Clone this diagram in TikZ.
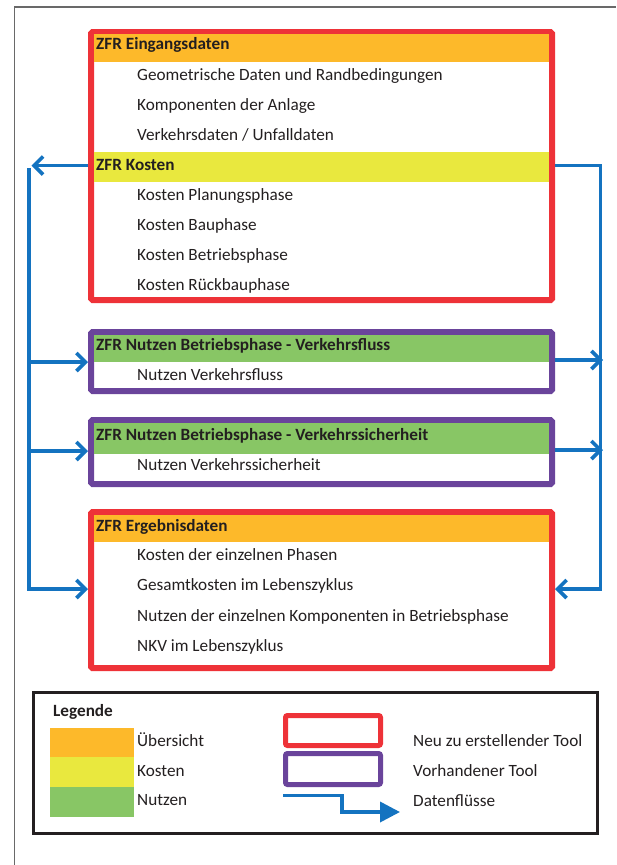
\documentclass[tikz,border=0pt]{standalone}
\usepackage{fontspec}
\setmainfont{Carlito}
\usetikzlibrary{arrows.meta}

\definecolor{toolred}{RGB}{238,50,56}
\definecolor{toolpurple}{RGB}{106,68,155}
\definecolor{bandorange}{RGB}{253,185,42}
\definecolor{bandyellow}{RGB}{233,232,62}
\definecolor{bandgreen}{RGB}{136,198,101}
\definecolor{flowblue}{RGB}{20,115,192}
\definecolor{framegray}{RGB}{105,105,105}
\definecolor{inkdark}{RGB}{35,31,32}

\begin{document}
\begin{tikzpicture}[x=1pt,y=-1pt,
  font=\fontsize{17.2}{20}\selectfont, text=inkdark,
  newtool/.style={draw=toolred, line width=6pt, outer sep=3pt, inner sep=0pt,
    rounded corners=1.5pt, minimum width=461pt},
  oldtool/.style={draw=toolpurple, line width=6pt, outer sep=3pt, inner sep=0pt,
    rounded corners=1.5pt, minimum width=461pt},
  band/.style={fill=#1, draw=none, inner sep=0pt, outer sep=0pt,
    minimum width=455pt, anchor=north west},
  head/.style={anchor=base west, inner sep=0pt, font=\fontsize{17.2}{20}\selectfont\bfseries},
  item/.style={anchor=base west, inner sep=0pt},
  flow/.style={draw=flowblue, line width=3.6pt,
    -{Straight Barb[length=9pt,width=18pt,line width=3.6pt]}},
  flowline/.style={draw=flowblue, line width=3.6pt},
  swatch/.style={fill=#1, draw=none, inner sep=0pt, outer sep=0pt,
    minimum width=84pt, anchor=north west},
  legtool/.style={draw=#1, line width=5pt, rounded corners=2pt, inner sep=0pt,
    minimum width=95pt},
]
\useasboundingbox (0,0) rectangle (616,865);

% page frame
\draw[framegray, line width=1.5pt] (14.5,865) -- (14.5,7) -- (616,7);

% ---------- input data and costs ----------
\node[newtool, minimum height=268pt] (ein) at (321.5,166) {};
\node[band=bandorange, minimum height=28pt] (bEin) at (94,34) {};
\node[head] (tEin) at (96,49.5) {ZFR Eingangsdaten};
\node[item] (i1) at (137,80) {Geometrische Daten und Randbedingungen};
\node[item] (i2) at (137,110) {Komponenten der Anlage};
\node[item] (i3) at (137,140) {Verkehrsdaten / Unfalldaten};
\node[band=bandyellow, minimum height=30pt] (bKost) at (94,152) {};
\node[head] (tKost) at (96,170) {ZFR Kosten};
\node[item] (k1) at (137,200) {Kosten Planungsphase};
\node[item] (k2) at (137,230) {Kosten Bauphase};
\node[item] (k3) at (137,260) {Kosten Betriebsphase};
\node[item] (k4) at (137,290) {Kosten Rückbauphase};

% ---------- traffic flow benefit ----------
\node[oldtool, minimum height=59pt] (nf) at (321.5,361.5) {};
\node[band=bandgreen, minimum height=27pt] (bNf) at (94,335) {};
\node[head] (tNf) at (96,350) {ZFR Nutzen Betriebsphase - Verkehrsfluss};
\node[item] (nf1) at (137,380) {Nutzen Verkehrsfluss};

% ---------- traffic safety benefit ----------
\node[oldtool, minimum height=64pt] (ns) at (321.5,452) {};
\node[band=bandgreen, minimum height=31pt] (bNs) at (94,423) {};
\node[head] (tNs) at (96,440) {ZFR Nutzen Betriebsphase - Verkehrssicherheit};
\node[item] (ns1) at (137,470) {Nutzen Verkehrssicherheit};

% ---------- results ----------
\node[newtool, minimum height=156pt] (erg) at (321.5,590) {};
\node[band=bandorange, minimum height=27pt] (bErg) at (94,515) {};
\node[head] (tErg) at (96,531) {ZFR Ergebnisdaten};
\node[item] (r1) at (137,560) {Kosten der einzelnen Phasen};
\node[item] (r2) at (137,590) {Gesamtkosten im Lebenszyklus};
\node[item] (r3) at (137,621) {Nutzen der einzelnen Komponenten in Betriebsphase};
\node[item] (r4) at (137,651) {NKV im Lebenszyklus};

% ---------- data flows ----------
\coordinate (lOut) at (31.5,165.5);
\coordinate (lTop) at (29,168);
\coordinate (lNf)  at (29,362);
\coordinate (lNs)  at (29,451);
\coordinate (lBot) at (29,589);
\coordinate (rTop) at (600.5,165.5);
\coordinate (rBot) at (600.5,589);
\coordinate (rNf)  at (603,360);
\coordinate (rNs)  at (603,450);

\draw[flow] (ein.west |- lOut) -- (lOut);
\draw[flow] (lTop) -- (lBot) -- (erg.west |- lBot);
\draw[flow] (lNf) -- (nf.west |- lNf);
\draw[flow] (lNs) -- (ns.west |- lNs);

\draw[flow] (ein.east |- rTop) -- (rTop) -- (rBot) -- (erg.east |- rBot);
\draw[flow] (nf.east |- rNf) -- (rNf);
\draw[flow] (ns.east |- rNs) -- (rNs);

% ---------- legend ----------
\node[draw=inkdark, line width=3pt, inner sep=0pt, outer sep=0pt,
  minimum width=564pt, minimum height=141pt] (leg) at (315,763) {};
\node[head] (legT) at (53,716) {Legende};
\node[swatch=bandorange, minimum height=29.5pt] (sO) at (50,728) {};
\node[swatch=bandyellow, minimum height=30.5pt] (sY) at (50,757) {};
\node[swatch=bandgreen, minimum height=30pt] (sG) at (50,787) {};
\node[item] (lO) at (137,746) {Übersicht};
\node[item] (lY) at (137,776) {Kosten};
\node[item] (lG) at (137,805) {Nutzen};

\node[legtool=toolred, minimum height=30pt] (legNew) at (333,730.5) {};
\node[legtool=toolpurple, minimum height=31pt] (legOld) at (333,769) {};
\coordinate (fA) at (283,795.5);
\coordinate (fB) at (342,795.5);
\coordinate (fC) at (342,812);
\coordinate (fD) at (400,812);
\draw[flowline, -{Triangle[length=20pt,width=20pt]}] (fA) -- (fB) -- (fC) -- (fD);

\node[item] (lNew) at (413,746) {Neu zu erstellender Tool};
\node[item] (lOld) at (413,776) {Vorhandener Tool};
\node[item] (lFlow) at (413,806) {Datenflüsse};
\end{tikzpicture}
\end{document}
